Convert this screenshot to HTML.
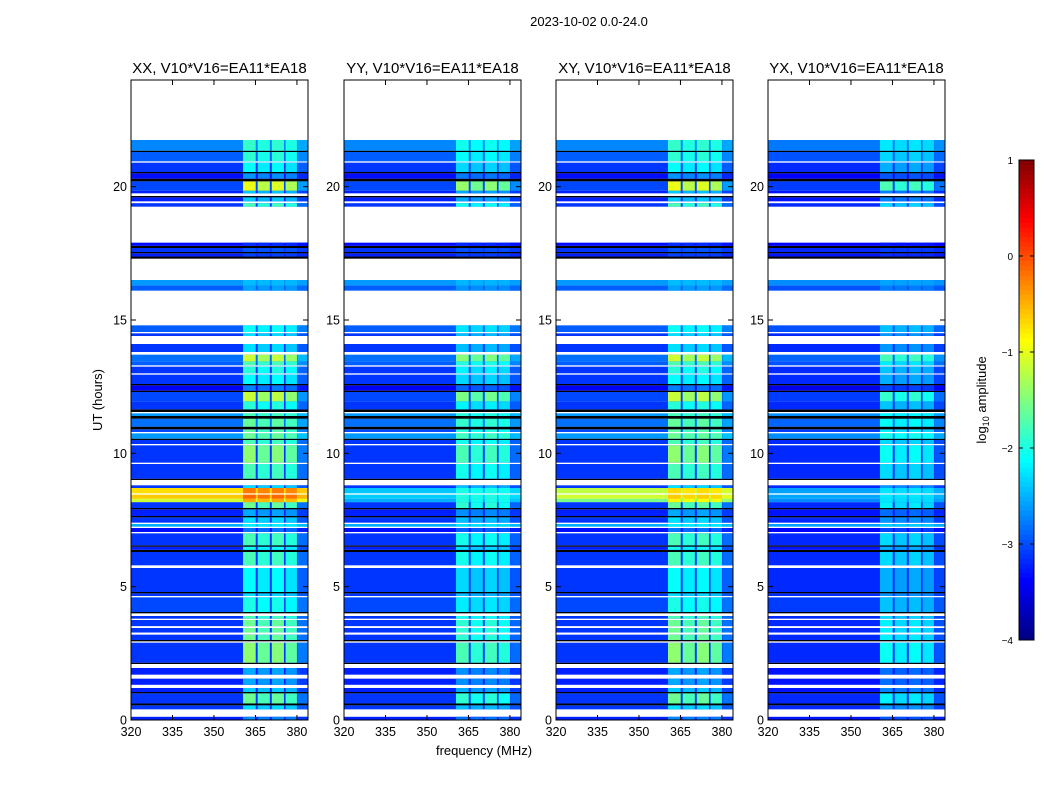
<!DOCTYPE html>
<html><head><meta charset="utf-8">
<style>
body{margin:0;background:#fff;width:1050px;height:800px;overflow:hidden;font-family:"Liberation Sans",sans-serif;}
svg text{font-family:"Liberation Sans",sans-serif;}
</style></head>
<body>
<svg id="fig" width="1050" height="800" xmlns="http://www.w3.org/2000/svg">
<rect width="1050" height="800" fill="#fff"/>
<text x="589" y="26" font-size="13" text-anchor="middle">2023-10-02 0.0-24.0</text>
<text x="484" y="755" font-size="13" text-anchor="middle">frequency (MHz)</text>
<text transform="translate(102,400) rotate(-90)" font-size="13" text-anchor="middle">UT (hours)</text>
<g id="panels"></g>
<g id="cbar"></g>
</svg>
<script>
// ---- data ----
const panelTitles = ["XX, V10*V16=EA11*EA18","YY, V10*V16=EA11*EA18","XY, V10*V16=EA11*EA18","YX, V10*V16=EA11*EA18"];
const panelBandGain = [1, 0.8, 1, 0.65];
const panelHotGain = [1, 0.3, 0.8, 0.25];
const panelBaseOffset = [-0.12, -0.12, -0.12, -0.18];
// time segments: start hour, end hour, background log amp ('W' = no data, 'K' = flagged), band activity
const segStart = [0,0.12,0.4,0.55,0.62,1.0,1.05,1.2,1.32,1.55,1.7,1.95,2.1,2.15,2.9,2.95,3.0,3.2,3.28,3.45,3.52,3.75,3.8,3.9,4.0,4.05,4.6,4.65,4.75,4.8,5.7,5.8,6.3,6.38,6.5,6.55,7.0,7.05,7.2,7.25,7.35,7.4,7.6,7.65,7.9,7.95,8.17,8.3,8.45,8.5,8.7,8.8,9.0,9.05,9.6,9.65,10.3,10.35,10.5,10.55,10.75,10.8,10.9,11.0,11.3,11.4,11.5,11.55,11.65,11.95,12.3,12.35,12.55,12.6,12.95,13.0,13.25,13.3,13.45,13.7,13.8,14.1,14.4,14.5,14.55,14.8,16.1,16.3,16.5,17.3,17.38,17.5,17.55,17.7,17.78,17.9,19.25,19.38,19.45,19.6,19.65,19.75,19.85,20.2,20.3,20.5,20.55,20.9,20.95,21.3,21.35,21.75];
const segEnd   = [0.12,0.4,0.55,0.62,1.0,1.05,1.2,1.32,1.55,1.7,1.95,2.1,2.15,2.9,2.95,3.0,3.2,3.28,3.45,3.52,3.75,3.8,3.9,4.0,4.05,4.6,4.65,4.75,4.8,5.7,5.8,6.3,6.38,6.5,6.55,7.0,7.05,7.2,7.25,7.35,7.4,7.6,7.65,7.9,7.95,8.17,8.3,8.45,8.5,8.7,8.8,9.0,9.05,9.6,9.65,10.3,10.35,10.5,10.55,10.75,10.8,10.9,11.0,11.3,11.4,11.5,11.55,11.65,11.95,12.3,12.35,12.55,12.6,12.95,13.0,13.25,13.3,13.45,13.7,13.8,14.1,14.4,14.5,14.55,14.8,16.1,16.3,16.5,17.3,17.38,17.5,17.55,17.7,17.78,17.9,19.25,19.38,19.45,19.6,19.65,19.75,19.85,20.2,20.3,20.5,20.55,20.9,20.95,21.3,21.35,21.75,24];
const segBase  = [-3.1,'W',-3.0,'K',-3.0,'K',-3.1,'W',-3.1,'W',-3.1,'W','K',-3.0,'W','K',-3.0,'W',-3.0,'W',-3.0,'W',-3.0,'W','K',-2.9,'W',-3.0,'K',-3.0,'W',-3.0,'K',-3.1,'K',-3.0,'W',-3.2,'W',-2.4,'W',-3.0,'K',-3.1,'K',-3.0,-1.0,-0.5,'W',-0.6,-3.0,'W','K',-3.0,'W',-3.0,'W',-3.0,'K',-2.5,'W',-2.9,'K',-2.7,'K',-2.5,'W','K',-3.0,-2.9,'K',-3.3,'K',-3.0,'W',-3.0,'W',-2.8,-2.7,'W',-3.0,'W',-3.0,'W',-2.8,'W',-2.8,-2.5,'W','K',-3.1,'K',-3.0,'K',-3.2,'W',-3.0,'W',-3.1,'K','W',-3.1,-2.9,'K',-3.2,'K',-3.0,'W',-2.8,'K',-2.6,'W'];
const segBand  = [0.3,0,0.5,0,0.9,0,0.5,0,0.4,0,0.4,0,0,1.0,0,0,0.9,0,0.9,0,0.9,0,0.8,0,0,0.6,0,0.5,0,0.6,0,0.8,0,0.7,0,0.8,0,0.3,0,0.2,0,0.5,0,0.4,0,0.9,0.4,0.3,0,0.3,0.5,0,0,0.8,0,1.0,0,0.8,0,0.6,0,0.8,0,0.7,0,0.5,0,0,0.7,1.1,0,0.4,0,0.6,0,0.7,0,0.7,1.0,0,0.5,0,0.5,0,0.5,0,0.2,0.1,0,0,0.1,0,0.1,0,0.1,0,0.8,0,0.5,0,0,0.5,1.2,0,0.4,0,0.6,0,0.6,0,0.5,0];
// frequency band stripes (MHz) and their boost (log units)
const bandLo = [360.5, 365.8, 370.9, 375.9, 380.2];
const bandHi = [365.1, 370.2, 375.3, 380.0, 384];
const bandBoost = [1.7, 1.5, 1.65, 1.45, 0.35];
const xTicks = [320,335,350,365,380];
const yTicks = [0,5,10,15,20];
const cbTicks = [1,0,-1,-2,-3,-4];

// ---- geometry ----
const NS="http://www.w3.org/2000/svg";
const panelX = [131,344,556,768], PW=177, PT=80, PB=720;
const FMIN=320, FMAX=384, TMIN=0, TMAX=24, VMIN=-4, VMAX=1;
function jet(v){
  let t=(v-VMIN)/(VMAX-VMIN); t=Math.max(0,Math.min(1,t));
  const f=x=>Math.max(0,Math.min(1,x));
  const r=f(Math.min(4*t-1.5,-4*t+4.5)), g=f(Math.min(4*t-0.5,-4*t+3.5)), b=f(Math.min(4*t+0.5,-4*t+2.5));
  return `rgb(${Math.round(r*255)},${Math.round(g*255)},${Math.round(b*255)})`;
}
function el(tag,attrs,parent){const e=document.createElementNS(NS,tag);for(const k in attrs)e.setAttribute(k,attrs[k]);parent.appendChild(e);return e;}
const panels=document.getElementById('panels');
panelTitles.forEach((title,p)=>{
  const x0=panelX[p];
  const xs=f=>x0+(f-FMIN)/(FMAX-FMIN)*PW;
  const ys=t=>PB-(t-TMIN)/(TMAX-TMIN)*(PB-PT);
  const g=el('g',{},panels);
  
  
  for(let i=0;i<segStart.length;i++){
    const b=segBase[i];
    if(b==='W') continue;
    const y1=ys(segEnd[i]), y2=ys(segStart[i]);
    if(b==='K'){
      const r=el('rect',{x:x0,y:y1,width:PW,height:y2-y1,fill:'#000'},g);
      
      
      continue;
    }
    let base=b;
    if(base>-2) base=-3+(base+3)*panelHotGain[p];
    base+=panelBaseOffset[p];
    const r=el('rect',{x:x0,y:y1,width:PW,height:y2-y1,fill:jet(base)},g);
    
    
    for(let k=0;k<bandLo.length;k++){
      const v=base+segBand[i]*bandBoost[k]*panelBandGain[p];
      const c=el('rect',{x:xs(bandLo[k]),y:y1,width:xs(bandHi[k])-xs(bandLo[k]),height:y2-y1,fill:jet(v)},g);
      
      
    }
  }
  const fr=el('rect',{x:x0,y:PT,width:PW,height:PB-PT,fill:'none',stroke:'#000','stroke-width':1},g);
  
  
  const tt=el('text',{x:x0+PW/2,y:73,'font-size':15,'text-anchor':'middle'},g);
  tt.textContent=title;
  
  
  xTicks.forEach(f=>{
    const x=xs(f);
    el('line',{x1:x,y1:PB,x2:x,y2:PB-5,stroke:'#000'},g);
    el('line',{x1:x,y1:PT,x2:x,y2:PT+5,stroke:'#000'},g);
    const t=el('text',{x:x,y:PB+16,'font-size':12.5,'text-anchor':'middle'},g);
    t.textContent=f;
    
    
  });
  yTicks.forEach(v=>{
    const y=ys(v);
    el('line',{x1:x0,y1:y,x2:x0+5,y2:y,stroke:'#000'},g);
    el('line',{x1:x0+PW,y1:y,x2:x0+PW-5,y2:y,stroke:'#000'},g);
    const t=el('text',{x:x0-4,y:y+4.5,'font-size':12.5,'text-anchor':'end'},g);
    t.textContent=v;
    
    
  });
});
// colorbar
const cb=document.getElementById('cbar');
const CX=1019, CW=15, CT=160, CB=640;
const cys=v=>CB-(v-VMIN)/(VMAX-VMIN)*(CB-CT);
for(let i=0;i<100;i++){
  const v0=VMIN+(VMAX-VMIN)*i/100, v1=VMIN+(VMAX-VMIN)*(i+1)/100;
  const r=el('rect',{x:CX,y:cys(v1),width:CW,height:cys(v0)-cys(v1)+0.5,fill:jet((v0+v1)/2)},cb);
  
  
}
const cf=el('rect',{x:CX,y:CT,width:CW,height:CB-CT,fill:'none',stroke:'#000'},cb);


cbTicks.forEach(v=>{
  const y=cys(v);
  el('line',{x1:CX,y1:y,x2:CX+4,y2:y,stroke:'#000'},cb);
  el('line',{x1:CX+CW,y1:y,x2:CX+CW-4,y2:y,stroke:'#000'},cb);
  const t=el('text',{x:CX-6,y:y+4,'font-size':10,'text-anchor':'end'},cb);
  t.textContent=v<0?'\u2212'+(-v):String(v);
  
  
});
const cl=el('text',{transform:'translate(986,400) rotate(-90)','font-size':13,'text-anchor':'middle'},cb);
cl.innerHTML='log<tspan font-size="9" dy="3">10</tspan><tspan dy="-3"> amplitude</tspan>';


</script>
</body></html>
